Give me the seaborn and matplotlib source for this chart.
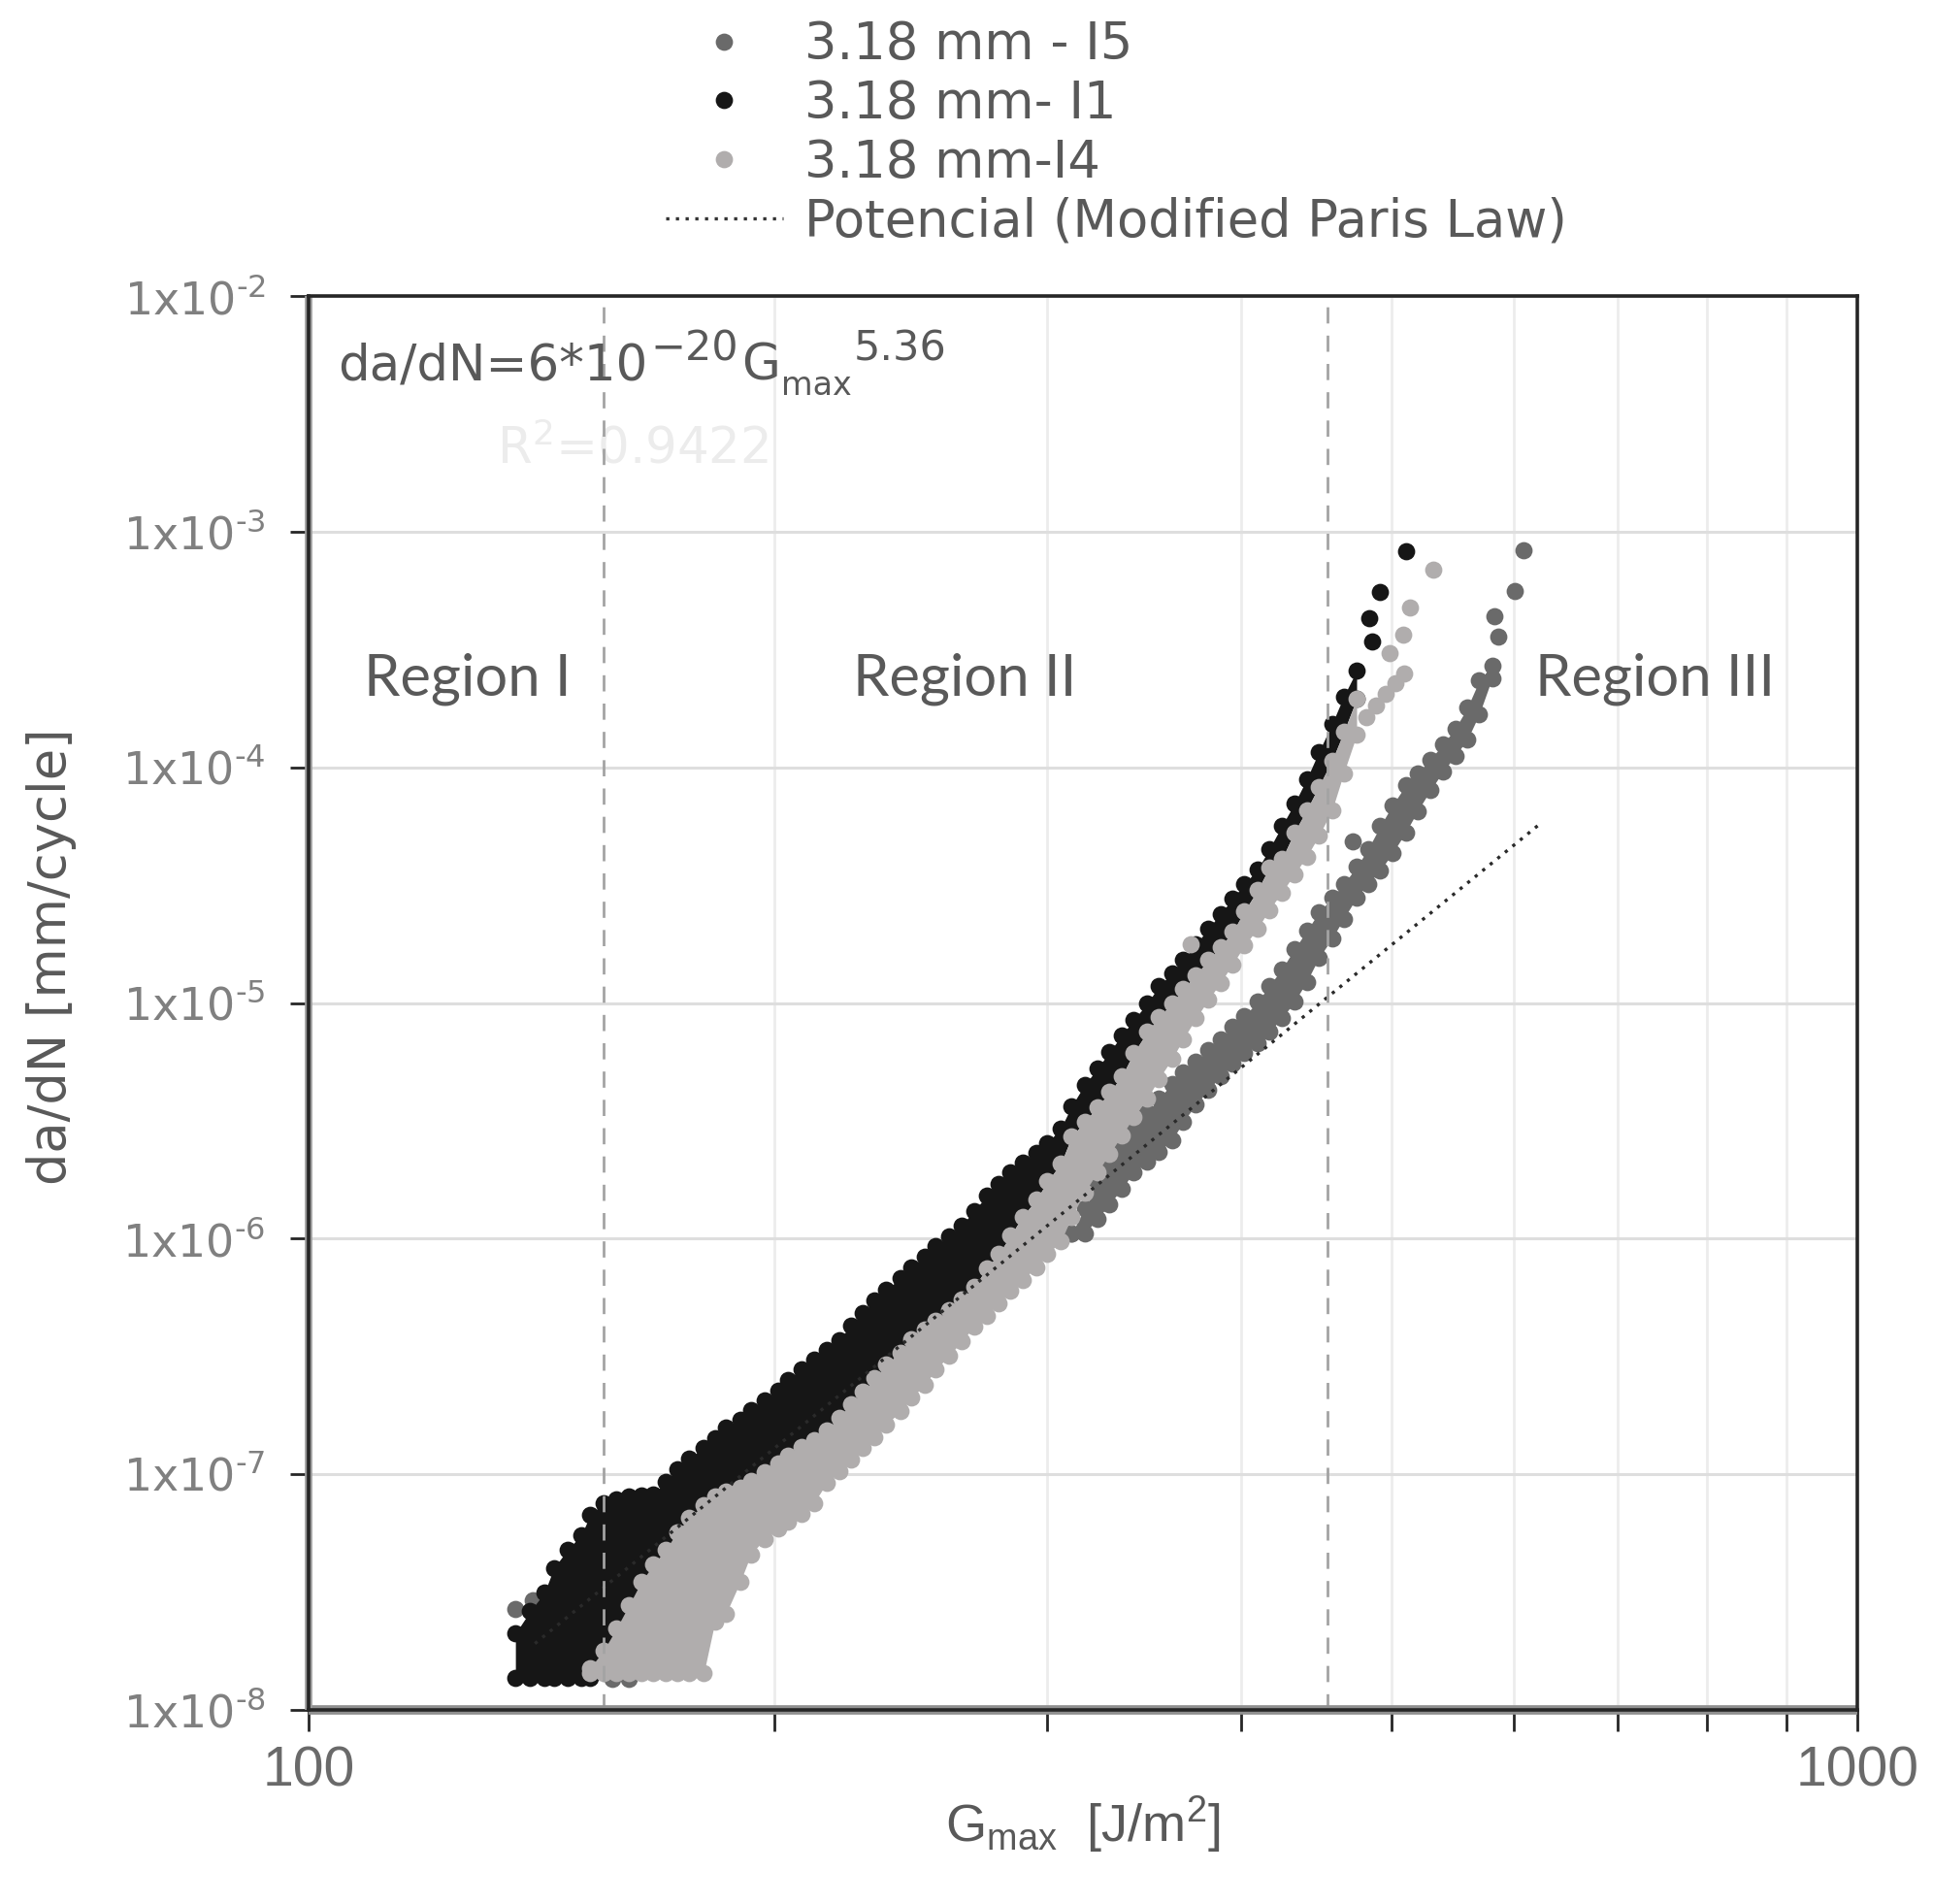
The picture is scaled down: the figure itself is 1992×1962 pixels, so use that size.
import numpy as np
import pandas as pd
import matplotlib
matplotlib.use("Agg")
import matplotlib.pyplot as plt
import seaborn as sns
from matplotlib.lines import Line2D
from matplotlib.ticker import NullLocator
from matplotlib.transforms import IdentityTransform

sns.set_theme(style="white")
plt.rcParams['font.family'] = ['DejaVu Sans']
plt.rcParams['mathtext.fontset'] = 'dejavusans'

# ---------------- data ----------------
# Specimen 3.18 mm - I5 : dense point cloud (upper / lower boundary of the cloud per Gmax)
i5_gmax = [311, 317, 323, 329, 335, 341, 348, 354, 361, 367, 374, 381, 388, 395, 402, 410, 417, 425,
           433, 441, 449, 458, 466, 475, 483, 492, 501, 511, 520, 530, 540, 550, 560, 570, 581]
i5_upper = [1.05e-6, 1.35e-6, 1.67e-6, 2.00e-6, 2.43e-6, 2.94e-6, 3.44e-6, 3.93e-6, 4.54e-6, 5.06e-6,
            5.64e-6, 6.29e-6, 7.01e-6, 7.91e-6, 8.81e-6, 1.01e-5, 1.18e-5, 1.39e-5, 1.69e-5, 2.02e-5,
            2.42e-5, 2.80e-5, 3.20e-5, 3.78e-5, 4.48e-5, 5.63e-5, 6.91e-5, 8.38e-5, 9.45e-5, 1.08e-4,
            1.25e-4, 1.46e-4, 1.79e-4, 2.33e-4, 2.70e-4]
i5_lower = [1.05e-6, 1.05e-6, 1.21e-6, 1.40e-6, 1.63e-6, 1.91e-6, 2.13e-6, 2.34e-6, 2.61e-6, 3.13e-6,
            3.70e-6, 4.28e-6, 4.88e-6, 5.51e-6, 6.14e-6, 6.76e-6, 7.54e-6, 8.60e-6, 1.01e-5, 1.23e-5,
            1.55e-5, 1.88e-5, 2.28e-5, 2.80e-5, 3.20e-5, 3.65e-5, 4.32e-5, 5.30e-5, 6.51e-5, 7.99e-5,
            9.56e-5, 1.12e-4, 1.31e-4, 1.68e-4, 2.39e-4]
i5_extra_gmax = [136, 139.5, 157, 161, 167, 176, 190, 208, 228, 250, 274, 300, 472, 586, 583, 601, 609]
i5_extra_dadn = [2.68e-8, 2.92e-8, 1.35e-8, 1.35e-8, 2.24e-8, 3.22e-8, 5.21e-8, 8.43e-8, 1.54e-7,
                 2.81e-7, 5.45e-7, 1.06e-6, 4.87e-5, 3.60e-4, 4.36e-4, 5.62e-4, 8.36e-4]

# Specimen 3.18 mm - I1
i1_gmax = [136, 139, 142, 144, 147, 150, 152, 155, 158, 161, 164, 167, 170, 173, 176, 180, 183, 186,
           190, 193, 197, 201, 204, 208, 212, 216, 220, 224, 228, 232, 236, 241, 245, 250, 254, 259,
           264, 269, 274, 279, 284, 289, 295, 300, 306, 311, 317, 323, 329, 335, 341, 348, 354, 361,
           367, 374, 381, 388, 395, 402, 410, 417, 425, 433, 441, 449, 458, 466, 475]
i1_upper = [2.11e-8, 2.62e-8, 3.14e-8, 4.00e-8, 4.79e-8, 5.53e-8, 6.71e-8, 7.56e-8, 7.84e-8, 8.04e-8,
            8.13e-8, 8.23e-8, 9.28e-8, 1.05e-7, 1.17e-7, 1.29e-7, 1.42e-7, 1.58e-7, 1.70e-7, 1.87e-7,
            2.06e-7, 2.26e-7, 2.52e-7, 2.78e-7, 3.06e-7, 3.37e-7, 3.71e-7, 4.29e-7, 4.83e-7, 5.45e-7,
            6.08e-7, 6.77e-7, 7.55e-7, 8.41e-7, 9.27e-7, 1.02e-6, 1.14e-6, 1.31e-6, 1.52e-6, 1.71e-6,
            1.91e-6, 2.10e-6, 2.31e-6, 2.55e-6, 2.94e-6, 3.66e-6, 4.49e-6, 5.25e-6, 6.21e-6, 7.27e-6,
            8.50e-6, 9.94e-6, 1.18e-5, 1.34e-5, 1.53e-5, 1.77e-5, 2.07e-5, 2.39e-5, 2.77e-5, 3.20e-5,
            3.69e-5, 4.48e-5, 5.63e-5, 7.00e-5, 8.90e-5, 1.16e-4, 1.53e-4, 2.00e-4, 2.57e-4]
i1_lower = [1.37e-8, 1.37e-8, 1.37e-8, 1.37e-8, 1.37e-8, 1.37e-8, 1.37e-8, 1.47e-8, 2.11e-8, 2.68e-8,
            3.42e-8, 4.09e-8, 4.73e-8, 5.60e-8, 6.47e-8, 7.30e-8, 8.04e-8, 8.43e-8, 8.74e-8, 9.40e-8,
            1.02e-7, 1.11e-7, 1.20e-7, 1.30e-7, 1.40e-7, 1.54e-7, 1.74e-7, 1.98e-7, 2.24e-7, 2.55e-7,
            2.92e-7, 3.29e-7, 3.75e-7, 4.13e-7, 4.50e-7, 4.95e-7, 5.52e-7, 6.23e-7, 7.46e-7, 8.62e-7,
            1.03e-6, 1.24e-6, 1.46e-6, 1.75e-6, 2.08e-6, 2.71e-6, 3.13e-6, 3.61e-6, 4.18e-6, 4.88e-6,
            6.14e-6, 7.54e-6, 8.71e-6, 9.94e-6, 1.15e-5, 1.31e-5, 1.52e-5, 1.73e-5, 2.00e-5, 2.45e-5,
            3.01e-5, 3.74e-5, 4.07e-5, 5.30e-5, 6.58e-5, 8.28e-5, 1.07e-4, 1.41e-4, 1.95e-4]
i1_extra_gmax = [486, 484, 492, 511]
i1_extra_dadn = [3.43e-4, 4.31e-4, 5.55e-4, 8.26e-4]

# Specimen 3.18 mm - I4
i4_gmax = [152, 155, 158, 161, 164, 167, 170, 173, 176, 180, 183, 186, 190, 193, 197, 201, 204, 208,
           212, 216, 220, 224, 228, 232, 236, 241, 245, 250, 254, 259, 264, 269, 274, 279, 284, 289,
           295, 300, 306, 311, 317, 323, 329, 335, 341, 348, 354, 361, 367, 374, 381, 388, 395, 402,
           410, 417, 425, 433, 441, 449, 458, 466, 475]
i4_upper = [1.51e-8, 1.78e-8, 2.21e-8, 2.78e-8, 3.50e-8, 4.14e-8, 4.79e-8, 5.67e-8, 6.55e-8, 7.39e-8,
            8.04e-8, 8.43e-8, 8.74e-8, 9.40e-8, 1.02e-7, 1.11e-7, 1.20e-7, 1.30e-7, 1.40e-7, 1.54e-7,
            1.74e-7, 1.98e-7, 2.24e-7, 2.55e-7, 2.92e-7, 3.29e-7, 3.75e-7, 4.13e-7, 4.50e-7, 4.95e-7,
            5.52e-7, 6.23e-7, 7.46e-7, 8.62e-7, 1.03e-6, 1.24e-6, 1.46e-6, 1.75e-6, 2.08e-6, 2.71e-6,
            3.13e-6, 3.61e-6, 4.18e-6, 4.88e-6, 6.14e-6, 7.54e-6, 8.71e-6, 9.94e-6, 1.15e-5, 1.31e-5,
            1.52e-5, 1.73e-5, 2.00e-5, 2.45e-5, 3.01e-5, 3.74e-5, 4.07e-5, 5.30e-5, 6.58e-5, 8.28e-5,
            1.07e-4, 1.41e-4, 1.95e-4]
i4_lower = [1.44e-8, 1.44e-8, 1.44e-8, 1.44e-8, 1.44e-8, 1.44e-8, 1.44e-8, 1.44e-8, 1.44e-8, 1.44e-8,
            2.38e-8, 2.56e-8, 3.50e-8, 4.56e-8, 5.33e-8, 5.87e-8, 6.31e-8, 6.79e-8, 7.56e-8, 9.17e-8,
            1.03e-7, 1.15e-7, 1.29e-7, 1.43e-7, 1.62e-7, 1.85e-7, 2.11e-7, 2.40e-7, 2.78e-7, 3.17e-7,
            3.66e-7, 4.24e-7, 4.72e-7, 5.32e-7, 6.00e-7, 6.69e-7, 7.55e-7, 8.62e-7, 9.72e-7, 1.24e-6,
            1.57e-6, 1.91e-6, 2.29e-6, 2.74e-6, 3.28e-6, 3.93e-6, 4.77e-6, 5.78e-6, 7.01e-6, 8.60e-6,
            1.03e-5, 1.22e-5, 1.46e-5, 1.75e-5, 2.07e-5, 2.48e-5, 2.94e-5, 3.52e-5, 4.17e-5, 5.11e-5,
            6.58e-5, 9.45e-5, 1.37e-4]
i4_extra_gmax = [371, 482, 489, 496, 503, 510, 499, 509, 514, 532]
i4_extra_dadn = [1.77e-5, 1.63e-4, 1.83e-4, 2.04e-4, 2.28e-4, 2.51e-4, 3.04e-4, 3.64e-4, 4.75e-4, 6.90e-4]

# Modified Paris law fit printed on the chart: da/dN = C * Gmax^m
fit_C = 6e-20
fit_m = 5.36
fit_gmax_range = [140, 624]

# region boundaries (dashed lines) and region labels
region_bounds = [155, 455]
region_labels = ["Region I", "Region II", "Region III"]
region_label_gmax = [126.6, 265.4, 740]
region_label_dadn = 2.02e-4

series_labels = ["3.18 mm - I5", "3.18 mm- I1", "3.18 mm-I4"]
series_colors = ["#6a6a6a", "#161616", "#b0adad"]

x_ticks = [100, 1000]
x_minor = [200, 300, 400, 500, 600, 700, 800, 900]
y_exps = [-8, -7, -6, -5, -4, -3, -2]

HY = "\u2010"  # short hyphen used in the tick exponents

# ---------------- figure ----------------
W, H = 1992, 1962
fig = plt.figure(figsize=(W / 100, H / 100), dpi=100)
ax = fig.add_axes([318 / W, 1 - 1762 / H, (1914 - 318) / W, (1762 - 305) / H])
ax.set_xscale('log')
ax.set_yscale('log')
ax.set_xlim(100, 1000)
ax.set_ylim(1e-8, 1e-2)

MS = 164  # marker area (pt^2)

def draw_series(g, up, lo, xg, xy, color, z):
    for arr in (up, lo):
        assert len(arr) == len(g)
    ax.fill_between(g, lo, up, color=color, lw=0, zorder=z)
    df = pd.DataFrame({"Gmax": list(g) + list(g) + list(xg),
                       "dadN": list(up) + list(lo) + list(xy)})
    sns.scatterplot(data=df, x="Gmax", y="dadN", color=color, s=MS, linewidth=0,
                    ax=ax, zorder=z + 0.1, legend=False)

draw_series(i5_gmax, i5_upper, i5_lower, i5_extra_gmax, i5_extra_dadn, series_colors[0], 3)
draw_series(i1_gmax, i1_upper, i1_lower, i1_extra_gmax, i1_extra_dadn, series_colors[1], 4)
draw_series(i4_gmax, i4_upper, i4_lower, i4_extra_gmax, i4_extra_dadn, series_colors[2], 5)

tg = np.array(fit_gmax_range, dtype=float)
ty = fit_C * tg ** fit_m
ax.plot(tg, ty, color="#2a2a2a", lw=2.4, ls=(0, (1, 2)), zorder=7)

for b in region_bounds:
    ax.axvline(b, color="#a3a3a3", lw=2.0, dashes=(6, 4.5), zorder=8)

for lab, gx in zip(region_labels, region_label_gmax):
    ax.text(gx, region_label_dadn, lab, ha="center", va="baseline", fontsize=43,
            color="#595959", family=["Lato", "DejaVu Sans"], zorder=9)

# grid
ax.set_axisbelow(True)
ax.yaxis.grid(True, which="major", color="#dedede", lw=2.2)
ax.set_xticks(x_ticks)
ax.set_xticklabels([str(v) for v in x_ticks])
ax.set_xticks(x_minor, minor=True)
ax.set_xticklabels([], minor=True)
ax.xaxis.grid(True, which="minor", color="#ececec", lw=2.0)
ax.xaxis.grid(False, which="major")

ax.set_yticks([10.0 ** e for e in y_exps])
ax.set_yticklabels([r"1x10$^{\mathregular{%s%d}}$" % (HY, -e) for e in y_exps])
ax.yaxis.set_minor_locator(NullLocator())

ax.tick_params(axis="y", which="major", direction="out", length=14, width=2.0, color="#262626",
               labelsize=33, labelcolor="#808080", pad=18, left=True)
ax.tick_params(axis="x", which="both", direction="out", length=16, width=2.0, color="#262626",
               labelsize=41, labelcolor="#6a6a6a", pad=10, bottom=True)
for lbl in ax.get_xticklabels():
    lbl.set_family(["Liberation Sans", "DejaVu Sans"])

for side in ["left", "right", "top", "bottom"]:
    ax.spines[side].set_color("#262626")
    ax.spines[side].set_linewidth(2.6)
    ax.spines[side].set_zorder(10)
# gray shadow under left and bottom axis lines
ax.plot([0, 1], [0, 0], transform=ax.transAxes, color="#8f8f8f", lw=7, clip_on=False, zorder=9.5,
        solid_capstyle="butt")
ax.plot([0, 0], [0, 1], transform=ax.transAxes, color="#9a9a9a", lw=5.5, clip_on=False, zorder=9.5,
        solid_capstyle="butt")

ax.set_xlabel(r"G$_{\mathregular{max}}$  [J/m$^{\mathregular{2}}$]", fontsize=39, color="#595959",
              family=["Liberation Sans", "DejaVu Sans"])
ax.xaxis.set_label_coords(0.5, -0.059)
ax.set_ylabel("da/dN [mm/cycle]", fontsize=38, color="#595959")
ax.yaxis.set_label_coords(-0.150, 0.533)

handles = [Line2D([], [], ls="none", marker="o", markersize=12.8, markeredgewidth=0,
                  color=c) for c in series_colors]
handles.append(Line2D([], [], color="#333333", lw=2.4, ls=(0, (1, 2))))
fig.legend(handles, series_labels + ["Potencial (Modified Paris Law)"], loc="upper left",
           bbox_to_anchor=(686 / W, 1 - 20 / H), frameon=False, fontsize=38,
           labelcolor="#595959", handlelength=2.29, handletextpad=0.41, labelspacing=0.17,
           borderpad=0, borderaxespad=0)

# fitted equation, written piece by piece (super/subscripts as in the original)
renderer = fig.canvas.get_renderer()
eq_parts = [("da/dN=6*10", 37, 0, 0), ("\u221220", 31, 20, 3), ("G", 37, 0, 3),
            ("max", 24, -15, 1), ("5.36", 31, 20, 2)]
x_px, base_px = 348, H - 392
for s, fs, dy, gap in eq_parts:
    t = fig.text(x_px + gap, base_px + dy, s, transform=IdentityTransform(), fontsize=fs,
                 color="#595959", ha="left", va="baseline", zorder=9)
    x_px = t.get_window_extent(renderer).x1
ax.text(0.1216, 0.8813, r"R$^{\mathregular{2}}$=0.9422", transform=ax.transAxes, ha="left",
        va="baseline", fontsize=37, color="#ececec")

fig.savefig("out.png", dpi=100)
